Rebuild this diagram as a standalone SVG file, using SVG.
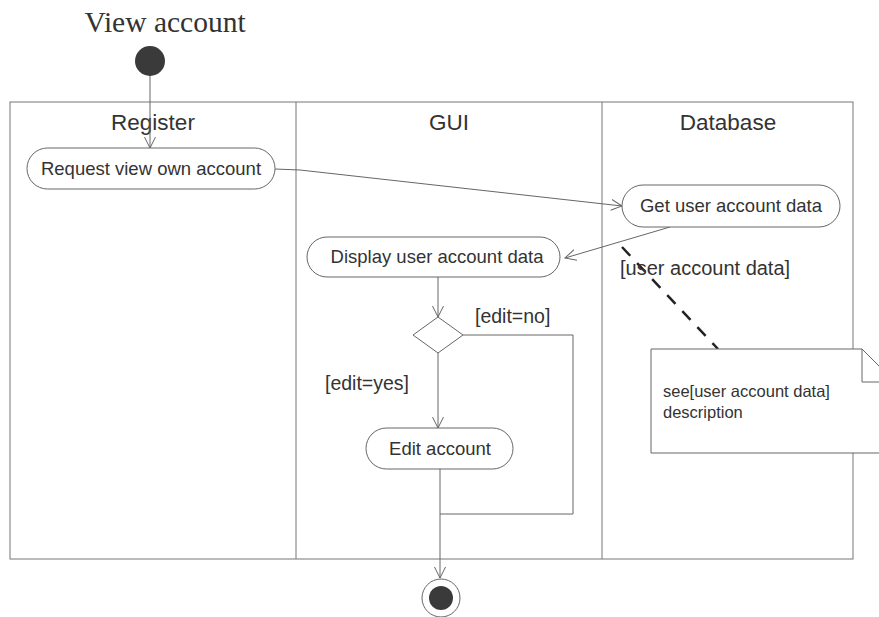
<svg xmlns="http://www.w3.org/2000/svg" width="879" height="617" viewBox="0 0 879 617">
<defs>
<marker id="open" viewBox="0 0 12 12" refX="11" refY="6" markerWidth="12" markerHeight="12" markerUnits="userSpaceOnUse" orient="auto">
<path d="M0,0.5 L11,6 L0,11.5" fill="none" stroke="#666" stroke-width="1"/>
</marker>
<style>
.lane{fill:none;stroke:#777;stroke-width:1}
.act{fill:#fff;stroke:#666;stroke-width:1}
.t{font-family:"Liberation Sans",Arial,sans-serif;fill:#333}
.c{fill:none;stroke:#666;stroke-width:1}
</style>
</defs>
<rect width="879" height="617" fill="#fff"/>
<text x="165" y="32" text-anchor="middle" font-family="Liberation Serif,Times New Roman,serif" font-size="29.5" fill="#333">View account</text>
<g id="lanes">
<rect class="lane" x="10" y="102" width="843" height="457"/>
<line class="lane" x1="296" y1="102" x2="296" y2="559"/>
<line class="lane" x1="602" y1="102" x2="602" y2="559"/>
<text class="t" x="153" y="130" font-size="22.5" text-anchor="middle">Register</text>
<text class="t" x="449" y="130" font-size="22.5" text-anchor="middle">GUI</text>
<text class="t" x="728" y="130" font-size="22.5" text-anchor="middle">Database</text>
</g>
<g id="connectors">
<line class="c" x1="150" y1="75" x2="150" y2="148" marker-end="url(#open)"/>
<polyline class="c" points="275,169 300,170 622,206" marker-end="url(#open)"/>
<line class="c" x1="670" y1="227" x2="565" y2="258" marker-end="url(#open)"/>
<line class="c" x1="438" y1="277" x2="438" y2="317" marker-end="url(#open)"/>
<line class="c" x1="438" y1="353" x2="438" y2="428" marker-end="url(#open)"/>
<polyline class="c" points="463,335 573,335 573,514 440,514"/>
<line class="c" x1="440" y1="469" x2="440" y2="578" marker-end="url(#open)"/>
<line x1="622" y1="247" x2="718" y2="349" stroke="#222" stroke-width="2.5" stroke-dasharray="12,10"/>
</g>
<g id="start">
<circle cx="150" cy="61" r="15" fill="#3a3a3a"/>
</g>
<g id="request">
<rect class="act" x="27" y="148" width="248" height="41" rx="20.5"/>
<text class="t" x="151" y="175" font-size="18.5" text-anchor="middle">Request view own account</text>
</g>
<g id="getdata">
<rect class="act" x="622" y="185" width="218" height="42" rx="21"/>
<text class="t" x="731" y="212" font-size="18.5" text-anchor="middle">Get user account data</text>
</g>
<g id="display">
<rect class="act" x="307" y="237" width="253" height="40" rx="20"/>
<text class="t" x="437" y="263" font-size="18.5" text-anchor="middle">Display user account data</text>
</g>
<g id="decision">
<polygon class="act" points="438,317 463,335 438,353 413,335"/>
<text class="t" x="475" y="323" font-size="19.5">[edit=no]</text>
<text class="t" x="325" y="390" font-size="19.5">[edit=yes]</text>
</g>
<g id="edit">
<rect class="act" x="366" y="428" width="147" height="41" rx="20.5"/>
<text class="t" x="440" y="455" font-size="18.5" text-anchor="middle">Edit account</text>
</g>
<g id="end">
<circle cx="441" cy="598" r="19" fill="#fff" stroke="#666" stroke-width="1"/>
<circle cx="441" cy="598" r="12" fill="#3a3a3a"/>
</g>
<g id="objlabel">
<text class="t" x="620" y="275" font-size="20">[user account data]</text>
</g>
<g id="note">
<path class="act" d="M651,349 L862,349 L895,382 L895,453 L651,453 Z"/>
<path class="c" d="M862,349 L862,382 L895,382"/>
<text class="t" x="663" y="397" font-size="16.5">see[user account data]</text>
<text class="t" x="663" y="418" font-size="16.5">description</text>
</g>
</svg>
